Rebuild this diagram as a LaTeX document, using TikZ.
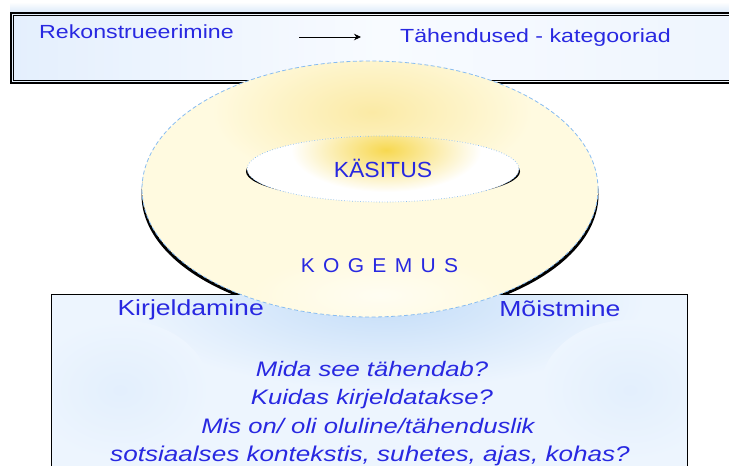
\documentclass[tikz,border=0pt]{standalone}
\usepackage{fontspec}
\setmainfont{Liberation Sans}
\newfontfamily\wf[FakeStretch=1.22]{Liberation Sans}
\newfontfamily\wcap[FakeStretch=1.05]{Liberation Sans}
\usetikzlibrary{arrows.meta}
\definecolor{txtblue}{RGB}{40,40,225}
\definecolor{bandblue}{RGB}{222,235,250}
\definecolor{topL}{RGB}{228,239,253}
\definecolor{topM}{RGB}{248,251,255}
\definecolor{topR}{RGB}{238,245,254}
\definecolor{boxbase}{RGB}{237,245,254}
\definecolor{boxglow}{RGB}{196,221,248}
\definecolor{cream}{RGB}{255,250,224}
\definecolor{creamglow}{RGB}{251,234,165}
\definecolor{creamlight}{RGB}{255,253,242}
\definecolor{innerglow}{RGB}{247,216,80}
\definecolor{rimblue}{RGB}{135,188,242}
\tikzset{
  lbl/.style={inner sep=0pt, text=txtblue},
  toptext/.style={lbl, font=\wf\fontsize{19}{22}\selectfont},
  boxtext/.style={lbl, font=\wf\fontsize{21.8}{25}\selectfont},
  qtext/.style={lbl, anchor=base, font=\wf\itshape\fontsize{21}{25}\selectfont},
  captext/.style={lbl, font=\wcap\fontsize{21.9}{25}\selectfont},
}
\begin{document}
\begin{tikzpicture}[x=1pt,y=-1pt]
\useasboundingbox (0,0) rectangle (729,466);
% band above top box
\fill[top color=white, bottom color=bandblue] (10,2) rectangle (729,12);
% top box
\shade[left color=topL, right color=topR, middle color=topM] (11,13.3) rectangle (750,83.2);
\draw[line width=1.7pt] (11,13.3) rectangle (750,83.2);
\draw[line width=0.8pt] (13.8,15.7) rectangle (750,80.5);
% outer shadow
\fill[black] (370,194.5) ellipse [x radius=228.5, y radius=125];
% bottom box
\fill[boxbase] (51,294) rectangle (687,480);
\begin{scope}
  \clip (51,294) rectangle (687,480);
  \shade[inner color=boxglow, outer color=boxbase] (385,300) ellipse [x radius=260, y radius=90];
  \shade[inner color=boxglow!25!boxbase, outer color=boxbase] (120,390) ellipse [x radius=90, y radius=70];
  \shade[inner color=boxglow!25!boxbase, outer color=boxbase] (630,390) ellipse [x radius=90, y radius=70];
\end{scope}
\draw[line width=0.8pt] (51,294) rectangle (687,480);
% outer ellipse (KOGEMUS)
\begin{scope}
  \clip (370,189) ellipse [x radius=228, y radius=128];
  \fill[cream] (140,60) rectangle (600,320);
  \shade[inner color=creamglow, outer color=cream] (372,112) ellipse [x radius=160, y radius=75];
  \shade[inner color=creamlight, outer color=cream] (380,295) ellipse [x radius=130, y radius=40];
\end{scope}
\draw[rimblue, dashed, dash pattern=on 4pt off 2.5pt, line width=0.8pt] (370,189) ellipse [x radius=228, y radius=128];
% inner ellipse (KÄSITUS)
\fill[black] (383,171.5) ellipse [x radius=137, y radius=28.5];
\begin{scope}
  \clip (383,169) ellipse [x radius=136, y radius=33];
  \fill[white] (245,134) rectangle (521,204);
  \shade[inner color=innerglow, outer color=white] (386,150) ellipse [x radius=95, y radius=42];
\end{scope}
\draw[rimblue, dotted, line width=0.7pt] (383,169) ellipse [x radius=136, y radius=33];
% texts
\node[toptext, anchor=base west] (rek) at (39,38.5) {Rekonstrueerimine};
\node[toptext, anchor=base east] (tah) at (671,42.7) {Tähendused - kategooriad};
\coordinate (arrS) at (299,37);
\coordinate (arrE) at (361,37);
\draw[line width=0.8pt, -{Stealth[length=7pt, width=6.5pt]}] (arrS) -- (arrE);
\node[captext, anchor=base] (kas) at (383,177.3) {KÄSITUS};
\node[lbl, anchor=base, font=\wcap\fontsize{20}{24}\selectfont] (kog) at (379.5,272.7) {\spaceskip=8.3pt K O G E M U S};
\node[boxtext, anchor=base west] (kir) at (117.3,315.7) {Kirjeldamine};
\node[boxtext, anchor=base east] (moi) at (620.7,316.7) {Mõistmine};
\node[qtext] (q1) at (372,376) {Mida see tähendab?};
\node[qtext] (q2) at (372,404.5) {Kuidas kirjeldatakse?};
\node[qtext] (q3) at (368,433) {Mis on/ oli oluline/tähenduslik};
\node[qtext, font=\wf\itshape\fontsize{21.4}{25}\selectfont] (q4) at (370,461) {sotsiaalses kontekstis, suhetes, ajas, kohas?};
\end{tikzpicture}
\end{document}
